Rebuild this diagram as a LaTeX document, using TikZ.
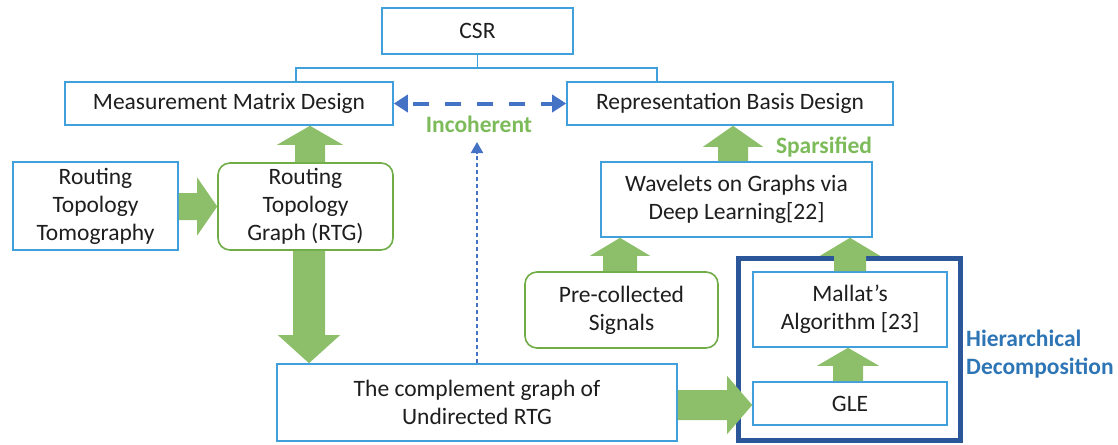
\documentclass[tikz,border=0pt]{standalone}
\usepackage{fontspec}
\setmainfont{Carlito}
\usetikzlibrary{arrows.meta,calc}
\definecolor{bblue}{HTML}{41A0DC}
\definecolor{bgreen}{HTML}{70AD47}
\definecolor{afill}{HTML}{8DBF6A}
\definecolor{navy}{HTML}{2B579A}
\definecolor{dblue}{HTML}{4472C4}
\definecolor{hblue}{HTML}{2E75B6}
\definecolor{tgreen}{HTML}{7DBB5A}
\definecolor{tblack}{HTML}{1E1E1E}
\tikzset{
  box/.style={draw=bblue, line width=1.6pt, fill=white, align=center, inner sep=0pt,
    text=tblack, font=\fontsize{23.5}{28}\selectfont},
  gbox/.style={box, draw=bgreen, rounded corners=12pt},
  lbl/.style={font=\fontsize{23.5}{28}\selectfont\bfseries, inner sep=0pt, align=left},
  blk/.style={fill=afill}
}
% vertical block arrow upwards: from node #1 (north) to node #2 (south), x centre #3, shaft half #4, head half #5, head length #6
\newcommand\blkup[6]{%
  \fill[blk] let \p1=(#1.north), \p2=(#2.south) in
   (#3pt-#4pt,\y1) -- (#3pt-#4pt,\y2-#6pt) -- (#3pt-#5pt,\y2-#6pt) -- (#3pt,\y2)
   -- (#3pt+#5pt,\y2-#6pt) -- (#3pt+#4pt,\y2-#6pt) -- (#3pt+#4pt,\y1) -- cycle;}
\newcommand\blkdown[6]{%
  \fill[blk] let \p1=(#1.south), \p2=(#2.north) in
   (#3pt-#4pt,\y1) -- (#3pt-#4pt,\y2+#6pt) -- (#3pt-#5pt,\y2+#6pt) -- (#3pt,\y2)
   -- (#3pt+#5pt,\y2+#6pt) -- (#3pt+#4pt,\y2+#6pt) -- (#3pt+#4pt,\y1) -- cycle;}
% rightward block arrow: from #1.east to #2.west, y centre #3 (downward units)
\newcommand\blkright[6]{%
  \fill[blk] let \p1=(#1.east), \p2=(#2.west) in
   (\x1,-#3pt+#4pt) -- (\x2-#6pt,-#3pt+#4pt) -- (\x2-#6pt,-#3pt+#5pt) -- (\x2,-#3pt)
   -- (\x2-#6pt,-#3pt-#5pt) -- (\x2-#6pt,-#3pt-#4pt) -- (\x1,-#3pt-#4pt) -- cycle;}
\begin{document}
\begin{tikzpicture}[x=1pt,y=-1pt]
\useasboundingbox (0,0) rectangle (1118,444);

% outer hierarchical box
\node[draw=navy, line width=5pt, minimum width=222pt, minimum height=182pt, inner sep=0pt] (hier) at (849,349) {};

\node[box, minimum width=191pt, minimum height=46pt] (csr) at (477.5,31) {CSR};
\node[box, minimum width=328pt, minimum height=43pt] (meas) at (229,103.5) {Measurement Matrix Design};
\node[box, minimum width=326pt, minimum height=43pt] (rep) at (730,103.5) {Representation Basis Design};
\node[box, minimum width=165pt, minimum height=88pt] (rtt) at (95.5,206) {Routing\\Topology\\Tomography};
\node[gbox, minimum width=175pt, minimum height=87pt] (rtg) at (305.5,206.5) {Routing\\Topology\\Graph (RTG)};
\node[box, minimum width=271pt, minimum height=75pt] (wav) at (736.5,199.5) {Wavelets on Graphs via\\Deep Learning[22]};
\node[gbox, minimum width=193pt, minimum height=76pt] (pre) at (621.5,310) {Pre-collected\\Signals};
\node[box, minimum width=400pt, minimum height=77pt] (comp) at (477,402.5) {The complement graph of\\Undirected RTG};
\node[box, minimum width=194pt, minimum height=75pt] (mal) at (850,309.5) {Mallat’s\\Algorithm [23]};
\node[box, minimum width=194pt, minimum height=43pt] (gle) at (850,403.5) {GLE};

% CSR tree connector
\coordinate (jl) at (296,68);
\coordinate (jr) at (657,68);
\draw[bblue, line width=1.4pt] (csr.south) -- (csr.south |- jl);
\draw[bblue, line width=1.4pt] (meas.north -| jl) -- (jl) -- (jr) -- (rep.north -| jr);

% incoherent arrows
\draw[dblue, line width=4pt, dash pattern=on 16pt off 16pt, dash phase=-6pt,
  {Triangle[length=14pt,width=17pt]}-{Triangle[length=14pt,width=17pt]}] (meas.east) -- (rep.west);
\coordinate (inctip) at (477,142);
\draw[dblue, line width=2pt, dash pattern=on 4.5pt off 2.5pt,
  -{Triangle[length=11pt,width=12pt]}] (comp.north) -- (inctip);

% block arrows
\blkright{rtt}{rtg}{206.5}{13.5}{29}{20}
\blkup{rtg}{meas}{310}{15}{33}{19}
\blkdown{rtg}{comp}{309}{16}{31}{28}
\blkright{comp}{gle}{405}{15}{29}{25}
\blkup{gle}{mal}{848}{15}{31}{18}
\blkup{mal}{wav}{850}{16}{30}{18}
\blkup{pre}{wav}{620}{17}{30}{18}
\blkup{wav}{rep}{733}{15}{30}{21}

% labels
\node[lbl, text=tgreen] (inc) at (479,124) {Incoherent};
\node[lbl, text=tgreen] (spa) at (824,147) {Sparsified};
\node[lbl, text=hblue, anchor=west] (hd) at (966,354) {Hierarchical\\Decomposition};
\end{tikzpicture}
\end{document}
